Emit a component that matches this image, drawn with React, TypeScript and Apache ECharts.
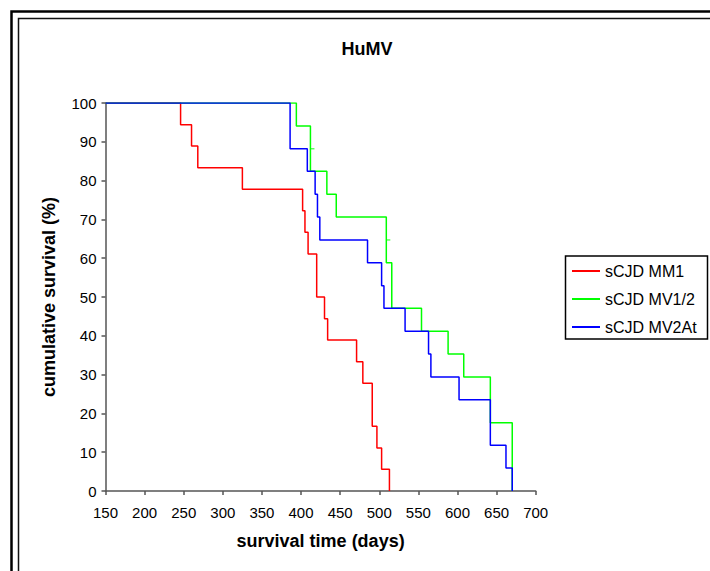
import React, { useEffect, useRef } from "react";
import * as echarts from "echarts";

const seriesNames = ["sCJD MM1", "sCJD MV1/2", "sCJD MV2At"];
const seriesColors = ["#ff0000", "#00ff00", "#0000ff"];

// [survival time (days), cumulative survival (%)] at each step
const mm1: [number, number][] = [
  [150, 100], [246, 94.4], [260, 88.9], [268, 83.3], [325, 77.8], [402, 72.2],
  [405, 66.7], [409, 61.1], [420, 50.0], [430, 44.4], [434, 38.9], [471, 33.3],
  [479, 27.8], [491, 16.7], [497, 11.1], [503, 5.6], [513, 0],
];
const mv12: [number, number][] = [
  [150, 100], [394, 94.1], [412, 82.4], [433, 76.5], [445, 70.6], [509, 58.8],
  [516, 47.1], [554, 41.2], [588, 35.3], [608, 29.4], [642, 17.6], [670, 0],
];
const mv2at: [number, number][] = [
  [150, 100], [386, 88.2], [408, 82.4], [418, 76.5], [421, 70.6], [424, 64.7],
  [485, 58.8], [503, 52.9], [506, 47.1], [533, 41.2], [563, 35.3], [566, 29.4],
  [602, 23.5], [642, 11.8], [662, 5.9], [670, 0],
];
// censor marks on MV1/2 curve
const mv12Censored: [number, number][] = [[412, 88.2], [509, 64.7]];

const xTicks = { min: 150, max: 700, interval: 50 };
const yTicks = { min: 0, max: 100, interval: 10 };

export default function App() {
  const ref = useRef<HTMLDivElement>(null);
  useEffect(() => {
    document.body.style.margin = "0";
    const chart = echarts.init(ref.current!, null, { renderer: "svg" });
    const font = "Liberation Sans, Arial, sans-serif";
    const dataSets = [mm1, mv12, mv2at];
    chart.setOption({
      animation: false,
      backgroundColor: "#ffffff",
      textStyle: { fontFamily: font },
      title: {
        text: "HuMV",
        left: 362,
        top: 35,
        textAlign: "center",
        textStyle: { fontFamily: font, fontWeight: "bold", fontSize: 18, color: "#000" },
      },
      graphic: [
        { type: "rect", shape: { x: 11.5, y: 11.5, width: 720, height: 600 }, style: { fill: "none", stroke: "#000", lineWidth: 2.5 }, silent: true },
        { type: "rect", shape: { x: 18.5, y: 18.5, width: 720, height: 600 }, style: { fill: "none", stroke: "#111", lineWidth: 1.5 }, silent: true },
        { type: "rect", shape: { x: 565.5, y: 256, width: 142, height: 83 }, style: { fill: "#fff", stroke: "#000", lineWidth: 1.5 }, silent: true, z: 0 },
      ],
      legend: {
        data: seriesNames,
        orient: "vertical",
        left: 572,
        top: 262,
        itemWidth: 28,
        itemHeight: 2,
        itemGap: 10,
        icon: "rect",
        padding: 0,
        textStyle: { fontFamily: font, fontSize: 16, color: "#000", lineHeight: 18 },
        z: 5,
      },
      grid: { left: 105.5, right: 174.3, top: 103, bottom: 80, containLabel: false },
      xAxis: {
        type: "value",
        min: xTicks.min,
        max: xTicks.max,
        interval: xTicks.interval,
        name: "survival time (days)",
        nameLocation: "middle",
        nameGap: 41,
        nameTextStyle: { fontFamily: font, fontWeight: "bold", fontSize: 18, color: "#000" },
        axisLine: { show: true, onZero: false, lineStyle: { color: "#555", width: 1.5 } },
        axisTick: { show: true, length: 4, lineStyle: { color: "#555", width: 1.5 } },
        axisLabel: { fontFamily: font, fontSize: 15, color: "#000", margin: 14 },
        splitLine: { show: false },
      },
      yAxis: {
        type: "value",
        min: yTicks.min,
        max: yTicks.max,
        interval: yTicks.interval,
        name: "cumulative survival (%)",
        nameLocation: "middle",
        nameGap: 48,
        nameTextStyle: { fontFamily: font, fontWeight: "bold", fontSize: 18, color: "#000" },
        axisLine: { show: true, lineStyle: { color: "#555", width: 1.5 } },
        axisTick: { show: true, length: 4, lineStyle: { color: "#555", width: 1.5 } },
        axisLabel: { fontFamily: font, fontSize: 15, color: "#000", margin: 9 },
        splitLine: { show: false },
      },
      series: [
        ...seriesNames.map((name, i) => ({
          name,
          type: "line",
          step: "end",
          data: dataSets[i],
          symbol: "none",
          color: seriesColors[i],
          lineStyle: { color: seriesColors[i], width: 1.5 },
          z: 2 + i,
        })),
        {
          name: "censored",
          type: "scatter",
          data: mv12Censored,
          symbol: "rect",
          symbolSize: [4, 1.2],
          symbolOffset: [2, 0],
          itemStyle: { color: seriesColors[1] },
          z: 6,
        },
      ],
    });
    return () => chart.dispose();
  }, []);
  return <div ref={ref} style={{ width: 710, height: 571 }} />;
}
